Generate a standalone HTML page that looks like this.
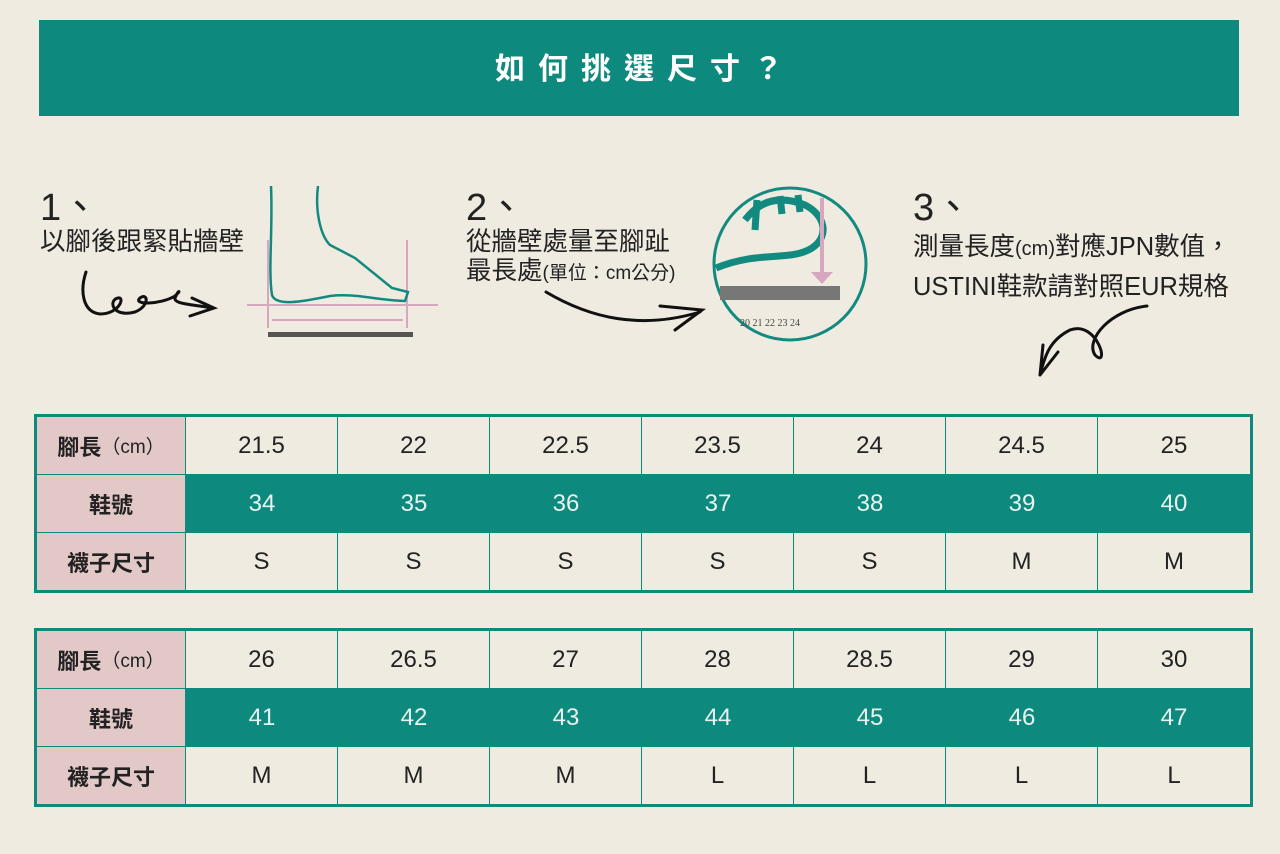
<!DOCTYPE html>
<html><head><meta charset="utf-8"><style>
*{margin:0;padding:0;box-sizing:border-box}
body{width:1280px;height:854px;background:#f0ebe1;position:relative;overflow:hidden;font-family:"Liberation Sans","Noto Sans CJK TC",sans-serif;color:#222}
.banner{position:absolute;left:39px;top:20px;width:1200px;height:96px;background:#0e897e;color:#fff;font-size:30px;font-weight:bold;letter-spacing:13px;text-align:center;line-height:100px;padding-left:13px}
.t{position:absolute;font-size:25.5px;line-height:29px;color:#222}
.n{font-size:38px;line-height:40px}
.tbl{position:absolute;left:34px;width:1219px;height:179px;border:3px solid #0e897e;background:#0e897e}
.c{position:absolute;display:flex;align-items:center;justify-content:center;font-size:24px}
.h{background:#e3c8c8;font-weight:bold;color:#222;font-size:22px}
.w{background:#f0ebe1;color:#222}
.g{background:#0e897e;color:#e8f3ef}
</style></head><body>
<div class="banner">如何挑選尺寸？</div>

<div class="t n" style="left:40px;top:188px">1、</div>
<div class="t" style="left:40px;top:228px">以腳後跟緊貼牆壁</div>
<div class="t n" style="left:466px;top:188px">2、</div>
<div class="t" style="left:466px;top:228px">從牆壁處量至腳趾<br>最長處<span style="font-size:19px">(單位：cm公分)</span></div>
<div class="t n" style="left:913px;top:188px">3、</div>
<div class="t" style="left:913px;top:228px;line-height:38px">測量長度<span style="font-size:20px">(cm)</span>對應JPN數值，<br>USTINI鞋款請對照EUR規格</div>

<svg style="position:absolute;left:0;top:0" width="1280" height="400">
<g fill="none" stroke="#111" stroke-width="3" stroke-linecap="round">
<path d="M86 272 C80 290 82 312 100 314 C120 314 125 296 118 298 C108 300 112 318 135 312 C150 306 148 292 140 298 C132 305 160 305 175 296 C182 290 178 290 176 296 C170 304 190 304 212 308 M192 298 L214 308 L190 316"/>
<path d="M546 292 C590 318 640 330 700 312 M660 306 L702 310 L675 330"/>
<path d="M1147 306 C1110 310 1085 340 1095 355 C1110 370 1098 320 1070 330 C1050 340 1045 355 1040 375 M1040 375 L1043 345 M1040 375 L1058 352"/>
</g>
<g fill="none" stroke="#d6a8c0" stroke-width="2">
<line x1="268" y1="240" x2="268" y2="328"/><line x1="407" y1="240" x2="407" y2="328"/>
<line x1="247" y1="305" x2="438" y2="305"/><line x1="272" y1="320" x2="403" y2="320"/>
</g>
<g fill="none" stroke="#138a7f" stroke-width="2.5">
<path d="M271 186 C273 230 268 270 272 295 C276 308 310 300 330 296 C355 293 375 300 405 301 L408 292 L392 288 L355 258 L330 245 C320 235 315 210 318 186"/>
</g>
<rect x="268" y="332" width="145" height="5" fill="#555"/>
<circle cx="790" cy="264" r="76" fill="none" stroke="#138a7f" stroke-width="3"/>
<path d="M716 268 C760 250 790 262 812 248 C830 236 825 215 805 205 C780 195 760 200 745 220 M757 200 L755 230 M780 196 L782 214 M798 195 L800 212" fill="none" stroke="#138a7f" stroke-width="7"/>
<line x1="822" y1="198" x2="822" y2="275" stroke="#d6a8c0" stroke-width="4"/>
<path d="M811 272 L833 272 L822 284 Z" fill="#d6a8c0"/>
<rect x="720" y="286" width="120" height="14" fill="#777"/>
<g font-family="Liberation Serif" font-size="10" fill="#444"><text x="740" y="326">20 21 22 23 24</text></g>
</svg>

<div class="tbl" style="top:414px">
<div class="c h" style="left:0;top:0;width:148px;height:57px">腳長<span style="font-weight:normal;font-size:19px">（cm）</span></div>
<div class="c h" style="left:0;top:58px;width:148px;height:57px">鞋號</div>
<div class="c h" style="left:0;top:116px;width:148px;height:57px">襪子尺寸</div>
</div>
<div class="tbl" style="top:628px">
<div class="c h" style="left:0;top:0;width:148px;height:57px">腳長<span style="font-weight:normal;font-size:19px">（cm）</span></div>
<div class="c h" style="left:0;top:58px;width:148px;height:57px">鞋號</div>
<div class="c h" style="left:0;top:116px;width:148px;height:57px">襪子尺寸</div>
</div>
<script>
const d=[[["21.5","22","22.5","23.5","24","24.5","25"],["34","35","36","37","38","39","40"],["S","S","S","S","S","M","M"]],
[["26","26.5","27","28","28.5","29","30"],["41","42","43","44","45","46","47"],["M","M","M","L","L","L","L"]]];
const ts=document.querySelectorAll('.tbl');
d.forEach((t,ti)=>{for(let i=0;i<7;i++){const x=149+i*152;
[[0,57,'w'],[58,57,'g'],[116,57,'w']].forEach((r,ri)=>{const e=document.createElement('div');e.className='c '+r[2];
e.style.cssText=`left:${x}px;top:${r[0]}px;width:${i==6?1213-x:151}px;height:${r[1]}px`;
if(ri==1){e.style.width=(i==6?1213-x:152)+'px'}
e.textContent=t[ri][i];ts[ti].appendChild(e)})}});
</script>
</body></html>
